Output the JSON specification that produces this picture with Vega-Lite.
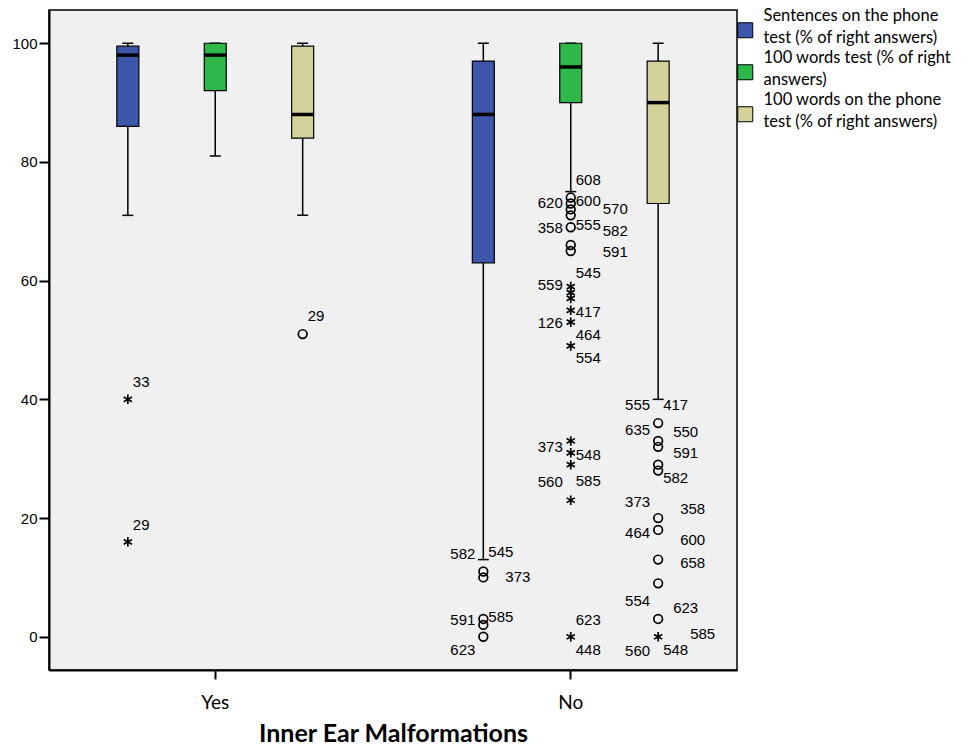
{
  "$schema": "https://vega.github.io/schema/vega-lite/v6.json",
  "width": 688,
  "height": 660,
  "autosize": {"type": "none"},
  "padding": {"left": 49, "top": 10, "right": 238, "bottom": 79},
  "background": "white",
  "config": {
    "view": {"fill": "#f0f0f0", "stroke": "black", "strokeWidth": 1.5},
    "axis": {"domainColor": "black", "domainWidth": 2, "tickColor": "black", "labelColor": "black", "grid": false}
  },
  "datasets": {
    "boxes": [
      {"group": "Yes", "series": "Sentences on the phone test (% of right answers)", "lo": 71, "q1": 86, "med": 98, "q3": 99.5, "hi": 100},
      {"group": "Yes", "series": "100 words test (% of right answers)", "lo": 81, "q1": 92, "med": 98, "q3": 100, "hi": 100},
      {"group": "Yes", "series": "100 words on the phone test (% of right answers)", "lo": 71, "q1": 84, "med": 88, "q3": 99.5, "hi": 100},
      {"group": "No", "series": "Sentences on the phone test (% of right answers)", "lo": 13, "q1": 63, "med": 88, "q3": 97, "hi": 100},
      {"group": "No", "series": "100 words test (% of right answers)", "lo": 75, "q1": 90, "med": 96, "q3": 100, "hi": 100},
      {"group": "No", "series": "100 words on the phone test (% of right answers)", "lo": 40, "q1": 73, "med": 90, "q3": 97, "hi": 100}
    ],
    "outliers": [
      {"group": "Yes", "series": "Sentences on the phone test (% of right answers)", "value": 40, "kind": "star"},
      {"group": "Yes", "series": "Sentences on the phone test (% of right answers)", "value": 16, "kind": "star"},
      {"group": "Yes", "series": "100 words on the phone test (% of right answers)", "value": 51, "kind": "circle"},
      {"group": "No", "series": "Sentences on the phone test (% of right answers)", "value": 11, "kind": "circle"},
      {"group": "No", "series": "Sentences on the phone test (% of right answers)", "value": 10, "kind": "circle"},
      {"group": "No", "series": "Sentences on the phone test (% of right answers)", "value": 3, "kind": "circle"},
      {"group": "No", "series": "Sentences on the phone test (% of right answers)", "value": 2, "kind": "circle"},
      {"group": "No", "series": "Sentences on the phone test (% of right answers)", "value": 0, "kind": "circle"},
      {"group": "No", "series": "100 words test (% of right answers)", "value": 74, "kind": "circle"},
      {"group": "No", "series": "100 words test (% of right answers)", "value": 73, "kind": "circle"},
      {"group": "No", "series": "100 words test (% of right answers)", "value": 72, "kind": "circle"},
      {"group": "No", "series": "100 words test (% of right answers)", "value": 71, "kind": "circle"},
      {"group": "No", "series": "100 words test (% of right answers)", "value": 69, "kind": "circle"},
      {"group": "No", "series": "100 words test (% of right answers)", "value": 66, "kind": "circle"},
      {"group": "No", "series": "100 words test (% of right answers)", "value": 65, "kind": "circle"},
      {"group": "No", "series": "100 words test (% of right answers)", "value": 59, "kind": "star"},
      {"group": "No", "series": "100 words test (% of right answers)", "value": 58, "kind": "star"},
      {"group": "No", "series": "100 words test (% of right answers)", "value": 57, "kind": "star"},
      {"group": "No", "series": "100 words test (% of right answers)", "value": 55, "kind": "star"},
      {"group": "No", "series": "100 words test (% of right answers)", "value": 53, "kind": "star"},
      {"group": "No", "series": "100 words test (% of right answers)", "value": 49, "kind": "star"},
      {"group": "No", "series": "100 words test (% of right answers)", "value": 33, "kind": "star"},
      {"group": "No", "series": "100 words test (% of right answers)", "value": 31, "kind": "star"},
      {"group": "No", "series": "100 words test (% of right answers)", "value": 29, "kind": "star"},
      {"group": "No", "series": "100 words test (% of right answers)", "value": 23, "kind": "star"},
      {"group": "No", "series": "100 words test (% of right answers)", "value": 0, "kind": "star"},
      {"group": "No", "series": "100 words on the phone test (% of right answers)", "value": 36, "kind": "circle"},
      {"group": "No", "series": "100 words on the phone test (% of right answers)", "value": 33, "kind": "circle"},
      {"group": "No", "series": "100 words on the phone test (% of right answers)", "value": 32, "kind": "circle"},
      {"group": "No", "series": "100 words on the phone test (% of right answers)", "value": 29, "kind": "circle"},
      {"group": "No", "series": "100 words on the phone test (% of right answers)", "value": 28, "kind": "circle"},
      {"group": "No", "series": "100 words on the phone test (% of right answers)", "value": 20, "kind": "circle"},
      {"group": "No", "series": "100 words on the phone test (% of right answers)", "value": 18, "kind": "circle"},
      {"group": "No", "series": "100 words on the phone test (% of right answers)", "value": 13, "kind": "circle"},
      {"group": "No", "series": "100 words on the phone test (% of right answers)", "value": 9, "kind": "circle"},
      {"group": "No", "series": "100 words on the phone test (% of right answers)", "value": 3, "kind": "circle"},
      {"group": "No", "series": "100 words on the phone test (% of right answers)", "value": 0, "kind": "star"}
    ],
    "labels": [
      {"group": "Yes", "series": "Sentences on the phone test (% of right answers)", "value": 42.9, "text": "33", "side": "R"},
      {"group": "Yes", "series": "Sentences on the phone test (% of right answers)", "value": 18.8, "text": "29", "side": "R"},
      {"group": "Yes", "series": "100 words on the phone test (% of right answers)", "value": 54.1, "text": "29", "side": "R"},
      {"group": "No", "series": "Sentences on the phone test (% of right answers)", "value": 13.9, "text": "582", "side": "L"},
      {"group": "No", "series": "Sentences on the phone test (% of right answers)", "value": 14.3, "text": "545", "side": "R"},
      {"group": "No", "series": "Sentences on the phone test (% of right answers)", "value": 10.0, "text": "373", "side": "R3"},
      {"group": "No", "series": "Sentences on the phone test (% of right answers)", "value": 2.9, "text": "591", "side": "L"},
      {"group": "No", "series": "Sentences on the phone test (% of right answers)", "value": 3.3, "text": "585", "side": "R"},
      {"group": "No", "series": "Sentences on the phone test (% of right answers)", "value": -2.3, "text": "623", "side": "L"},
      {"group": "No", "series": "100 words test (% of right answers)", "value": 77.0, "text": "608", "side": "R"},
      {"group": "No", "series": "100 words test (% of right answers)", "value": 73.0, "text": "620", "side": "L"},
      {"group": "No", "series": "100 words test (% of right answers)", "value": 73.4, "text": "600", "side": "R"},
      {"group": "No", "series": "100 words test (% of right answers)", "value": 72.1, "text": "570", "side": "R4"},
      {"group": "No", "series": "100 words test (% of right answers)", "value": 68.9, "text": "358", "side": "L"},
      {"group": "No", "series": "100 words test (% of right answers)", "value": 69.4, "text": "555", "side": "R"},
      {"group": "No", "series": "100 words test (% of right answers)", "value": 68.4, "text": "582", "side": "R4"},
      {"group": "No", "series": "100 words test (% of right answers)", "value": 64.8, "text": "591", "side": "R4"},
      {"group": "No", "series": "100 words test (% of right answers)", "value": 61.3, "text": "545", "side": "R"},
      {"group": "No", "series": "100 words test (% of right answers)", "value": 59.3, "text": "559", "side": "L"},
      {"group": "No", "series": "100 words test (% of right answers)", "value": 54.8, "text": "417", "side": "R"},
      {"group": "No", "series": "100 words test (% of right answers)", "value": 52.9, "text": "126", "side": "L"},
      {"group": "No", "series": "100 words test (% of right answers)", "value": 50.9, "text": "464", "side": "R"},
      {"group": "No", "series": "100 words test (% of right answers)", "value": 46.9, "text": "554", "side": "R"},
      {"group": "No", "series": "100 words test (% of right answers)", "value": 31.9, "text": "373", "side": "L"},
      {"group": "No", "series": "100 words test (% of right answers)", "value": 30.7, "text": "548", "side": "R"},
      {"group": "No", "series": "100 words test (% of right answers)", "value": 26.0, "text": "560", "side": "L"},
      {"group": "No", "series": "100 words test (% of right answers)", "value": 26.2, "text": "585", "side": "R"},
      {"group": "No", "series": "100 words test (% of right answers)", "value": 2.8, "text": "623", "side": "R"},
      {"group": "No", "series": "100 words test (% of right answers)", "value": -2.2, "text": "448", "side": "R"},
      {"group": "No", "series": "100 words on the phone test (% of right answers)", "value": 39.0, "text": "555", "side": "L"},
      {"group": "No", "series": "100 words on the phone test (% of right answers)", "value": 39.0, "text": "417", "side": "R"},
      {"group": "No", "series": "100 words on the phone test (% of right answers)", "value": 34.9, "text": "635", "side": "L"},
      {"group": "No", "series": "100 words on the phone test (% of right answers)", "value": 34.5, "text": "550", "side": "R2"},
      {"group": "No", "series": "100 words on the phone test (% of right answers)", "value": 31.0, "text": "591", "side": "R2"},
      {"group": "No", "series": "100 words on the phone test (% of right answers)", "value": 26.7, "text": "582", "side": "R"},
      {"group": "No", "series": "100 words on the phone test (% of right answers)", "value": 22.7, "text": "373", "side": "L"},
      {"group": "No", "series": "100 words on the phone test (% of right answers)", "value": 21.5, "text": "358", "side": "R3"},
      {"group": "No", "series": "100 words on the phone test (% of right answers)", "value": 17.5, "text": "464", "side": "L"},
      {"group": "No", "series": "100 words on the phone test (% of right answers)", "value": 16.3, "text": "600", "side": "R3"},
      {"group": "No", "series": "100 words on the phone test (% of right answers)", "value": 12.4, "text": "658", "side": "R3"},
      {"group": "No", "series": "100 words on the phone test (% of right answers)", "value": 6.0, "text": "554", "side": "L"},
      {"group": "No", "series": "100 words on the phone test (% of right answers)", "value": 4.9, "text": "623", "side": "R2"},
      {"group": "No", "series": "100 words on the phone test (% of right answers)", "value": 0.4, "text": "585", "side": "R4"},
      {"group": "No", "series": "100 words on the phone test (% of right answers)", "value": -2.4, "text": "560", "side": "L"},
      {"group": "No", "series": "100 words on the phone test (% of right answers)", "value": -2.2, "text": "548", "side": "R"}
    ]
  },
  "encoding": {
    "x": {
      "field": "group", "type": "nominal",
      "scale": {"domain": ["Yes", "No"], "paddingInner": 0.1, "paddingOuter": 0.0177},
      "axis": {"title": "Inner Ear Malformations", "labelAngle": 0, "labelFont": "Lato", "labelFontSize": 19, "labelPadding": 14, "tickSize": 9, "tickWidth": 2, "titleFont": "Lato", "titleFontSize": 25, "titleFontWeight": "bold", "titleColor": "black", "titlePadding": 9}
    },
    "xOffset": {
      "field": "series", "type": "nominal",
      "scale": {"domain": ["Sentences on the phone test (% of right answers)", "100 words test (% of right answers)", "100 words on the phone test (% of right answers)"], "paddingInner": 0, "paddingOuter": 0.33}
    }
  },
  "layer": [
    {
      "data": {"name": "boxes"},
      "mark": {"type": "rule", "color": "black", "strokeWidth": 1.5},
      "encoding": {
        "y": {"field": "lo", "type": "quantitative", "scale": {"domain": [-5.6, 105.6], "nice": false, "zero": false},
          "axis": {"title": null, "values": [0, 20, 40, 60, 80, 100], "labelFont": "Liberation Sans", "labelFontSize": 15, "labelPadding": 2, "tickSize": 10, "tickWidth": 2}},
        "y2": {"field": "hi"}
      }
    },
    {
      "data": {"name": "boxes"},
      "mark": {"type": "tick", "color": "black", "opacity": 1, "size": 11, "thickness": 1.5},
      "encoding": {"y": {"field": "lo", "type": "quantitative"}}
    },
    {
      "data": {"name": "boxes"},
      "mark": {"type": "tick", "color": "black", "opacity": 1, "size": 11, "thickness": 1.5},
      "encoding": {"y": {"field": "hi", "type": "quantitative"}}
    },
    {
      "data": {"name": "boxes"},
      "mark": {"type": "bar", "width": 22, "stroke": "black", "strokeWidth": 1.2, "opacity": 1},
      "encoding": {
        "y": {"field": "q1", "type": "quantitative"},
        "y2": {"field": "q3"},
        "fill": {
          "field": "series", "type": "nominal",
          "scale": {"domain": ["Sentences on the phone test (% of right answers)", "100 words test (% of right answers)", "100 words on the phone test (% of right answers)"], "range": ["#3d56a9", "#2eb84a", "#d4d09a"]},
          "legend": {
            "title": null, "orient": "none", "legendX": 688, "legendY": 12,
            "symbolType": "square", "symbolSize": 225, "symbolStrokeColor": "black", "symbolStrokeWidth": 1, "symbolOpacity": 1,
            "labelFont": "Lato", "labelFontSize": 16.5, "labelColor": "black", "labelOffset": 10, "labelLimit": 300, "rowPadding": 3, "padding": 0,
            "labelExpr": "datum.label == 'Sentences on the phone test (% of right answers)' ? ['Sentences on the phone', 'test (% of right answers)'] : datum.label == '100 words test (% of right answers)' ? ['100 words test (% of right', 'answers)'] : ['100 words on the phone', 'test (% of right answers)']",
            "encode": {"labels": {"update": {"lineHeight": {"value": 22}, "dy": {"value": -14}}}}
          }
        }
      }
    },
    {
      "data": {"name": "boxes"},
      "mark": {"type": "tick", "color": "black", "opacity": 1, "size": 22, "thickness": 3.5},
      "encoding": {"y": {"field": "med", "type": "quantitative"}}
    },
    {
      "data": {"name": "outliers"},
      "mark": {"type": "point", "filled": false, "stroke": "black", "strokeWidth": 1.7, "opacity": 1},
      "encoding": {
        "y": {"field": "value", "type": "quantitative"},
        "shape": {"field": "kind", "type": "nominal", "scale": {"domain": ["circle", "star"], "range": ["circle", "M0,-1L0,1M-0.87,-0.5L0.87,0.5M-0.87,0.5L0.87,-0.5"]}, "legend": null},
        "size": {"field": "kind", "type": "nominal", "scale": {"domain": ["circle", "star"], "range": [75, 90]}, "legend": null}
      }
    },
    {
      "data": {"name": "labels"},
      "transform": [{"filter": "datum.side == 'L'"}],
      "mark": {"type": "text", "align": "right", "baseline": "middle", "dx": -8, "font": "Liberation Sans", "fontSize": 15, "color": "black"},
      "encoding": {"y": {"field": "value", "type": "quantitative"}, "text": {"field": "text"}}
    },
    {
      "data": {"name": "labels"},
      "transform": [{"filter": "datum.side == 'R'"}],
      "mark": {"type": "text", "align": "left", "baseline": "middle", "dx": 5, "font": "Liberation Sans", "fontSize": 15, "color": "black"},
      "encoding": {"y": {"field": "value", "type": "quantitative"}, "text": {"field": "text"}}
    },
    {
      "data": {"name": "labels"},
      "transform": [{"filter": "datum.side == 'R2'"}],
      "mark": {"type": "text", "align": "left", "baseline": "middle", "dx": 15, "font": "Liberation Sans", "fontSize": 15, "color": "black"},
      "encoding": {"y": {"field": "value", "type": "quantitative"}, "text": {"field": "text"}}
    },
    {
      "data": {"name": "labels"},
      "transform": [{"filter": "datum.side == 'R3'"}],
      "mark": {"type": "text", "align": "left", "baseline": "middle", "dx": 22, "font": "Liberation Sans", "fontSize": 15, "color": "black"},
      "encoding": {"y": {"field": "value", "type": "quantitative"}, "text": {"field": "text"}}
    },
    {
      "data": {"name": "labels"},
      "transform": [{"filter": "datum.side == 'R4'"}],
      "mark": {"type": "text", "align": "left", "baseline": "middle", "dx": 32, "font": "Liberation Sans", "fontSize": 15, "color": "black"},
      "encoding": {"y": {"field": "value", "type": "quantitative"}, "text": {"field": "text"}}
    }
  ]
}
